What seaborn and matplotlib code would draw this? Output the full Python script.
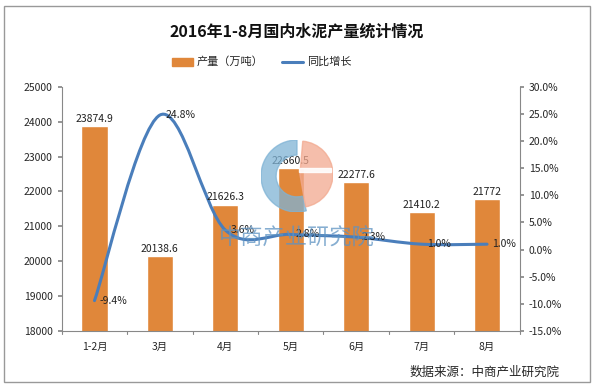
import numpy as np
import pandas as pd
import matplotlib
matplotlib.use('Agg')
import matplotlib.pyplot as plt
from matplotlib.path import Path
from matplotlib.patches import PathPatch, Rectangle, Wedge
import seaborn as sns

# Données
mois = ['1-2月', '3月', '4月', '5月', '6月', '7月', '8月']
production = [23874.9, 20138.6, 21626.3, 22660.5, 22277.6, 21410.2, 21772]
croissance = [-9.4, 24.8, 3.6, 2.8, 2.3, 1.0, 1.0]
prod_labels = ['23874.9', '20138.6', '21626.3', '22660.5', '22277.6', '21410.2', '21772']

sns.set_theme(style='white')
plt.rcParams['font.family'] = ['Noto Sans CJK SC', 'DejaVu Sans']

bar_color = '#E0873A'
line_color = '#4A7EBB'

W, H = 594, 386
fig = plt.figure(figsize=(5.94, 3.86), dpi=100)
ax = fig.add_axes([0.104, 0.1425, 0.771, 0.6325])

df = pd.DataFrame({'mois': mois, 'production': production})
sns.barplot(data=df, x='mois', y='production', color=bar_color, width=0.4,
            saturation=1, ax=ax)
ax.set_ylim(18000, 25000)
ax.set_yticks(range(18000, 25001, 1000))
ax.set_xlabel('')
ax.set_ylabel('')
ax.tick_params(axis='both', labelsize=7.5, length=3, color='#888888', direction='out')
ax.tick_params(axis='x', length=0, pad=8)
for s in ['top', 'right']:
    ax.spines[s].set_visible(False)
for s in ['left', 'bottom']:
    ax.spines[s].set_color('#888888')
    ax.spines[s].set_linewidth(0.8)
ax.set_xlim(-0.5, len(mois) - 0.5)
# séparateurs de catégories
for i in range(len(mois) + 1):
    ax.plot([i - 0.5, i - 0.5], [18000, 17900], color='#888888', lw=0.8, clip_on=False)

# Axe secondaire
ax2 = ax.twinx()
ax2.set_ylim(-15, 30)
ax2.set_yticks(np.arange(-15, 30.1, 5))
ax2.set_yticklabels([f'{t:.1f}%' for t in np.arange(-15, 30.1, 5)])
ax2.tick_params(axis='y', labelsize=7.5, length=3, color='#888888', direction='out')
for s in ['top', 'left', 'bottom']:
    ax2.spines[s].set_visible(False)
ax2.spines['right'].set_color('#888888')
ax2.spines['right'].set_linewidth(0.8)
ax2.grid(False)
ax.grid(False)

# Filigrane (logo + texte)
cx, cy, r = 297 / W, 1 - 176 / H, 36
rw, rh = r / W, r / H
logo_ax = fig.add_axes([cx - rw, cy - rh, 2 * rw, 2 * rh])
logo_ax.set_xlim(-1, 1)
logo_ax.set_ylim(-1, 1)
logo_ax.axis('off')
logo_ax.patch.set_alpha(0)
logo_ax.add_patch(Wedge((0, 0), 1, 90, 285, width=0.42, color='#7FB3D5', alpha=0.75))
logo_ax.add_patch(Wedge((0.08, 0.05), 0.92, -80, 85, color='#F2A98F', alpha=0.75))
logo_ax.add_patch(Rectangle((0.05, 0.1), 0.9, 0.12, color='white', alpha=0.9))
fig.text(297 / W, 1 - 238 / H, '中商产业研究院', ha='center', va='center', fontsize=16,
         color='#5E93C2', alpha=0.75, zorder=5)

# courbe lissée (style Excel) via Bézier
x = np.arange(len(mois), dtype=float)
y = np.array(croissance, dtype=float)
verts = [(x[0], y[0])]
codes = [Path.MOVETO]
n = len(x)
for i in range(n - 1):
    p0 = (x[i - 1], y[i - 1]) if i > 0 else (x[i], y[i])
    p1 = (x[i], y[i])
    p2 = (x[i + 1], y[i + 1])
    p3 = (x[i + 2], y[i + 2]) if i + 2 < n else (x[i + 1], y[i + 1])
    c1 = (p1[0] + (p2[0] - p0[0]) / 6, p1[1] + (p2[1] - p0[1]) / 6)
    c2 = (p2[0] - (p3[0] - p1[0]) / 6, p2[1] - (p3[1] - p1[1]) / 6)
    verts += [c1, c2, p2]
    codes += [Path.CURVE4] * 3
ax2.add_patch(PathPatch(Path(verts, codes), facecolor='none', edgecolor=line_color,
                        lw=2.2, capstyle='round'))

for i, v in enumerate(croissance):
    ax2.text(i + 0.08, v, f'{v:.1f}%', ha='left', va='center', fontsize=7.5,
             color='#222222', zorder=10)

# étiquettes des barres (au-dessus du filigrane)
for i, (v, t) in enumerate(zip(production, prod_labels)):
    ax2.text(i, -15 + (v + 60 - 18000) / 7000 * 45, t, ha='center', va='bottom',
             fontsize=7.5, color='#222222', zorder=10)

# Titre et légende
fig.text(0.5, 0.918, '2016年1-8月国内水泥产量统计情况', ha='center', va='center',
         fontsize=11.5, fontweight='bold', color='#111111')
fig.patches.append(Rectangle((172 / W, 0.829), 21 / W, 0.022, transform=fig.transFigure,
                             color=bar_color))
fig.text(197 / W, 0.840, '产量（万吨）', ha='left', va='center', fontsize=8)
fig.lines.append(plt.Line2D([282 / W, 303 / W], [0.840, 0.840], transform=fig.transFigure,
                            color=line_color, lw=2.2))
fig.text(307 / W, 0.840, '同比增长', ha='left', va='center', fontsize=8)

fig.text(560 / W, 1 - 372 / H, '数据来源：中商产业研究院', ha='right', va='center', fontsize=9)

# cadre
fig.patches.append(Rectangle((0.006, 0.01), 0.988, 0.975, transform=fig.transFigure,
                             fill=False, edgecolor='#999999', lw=1))

fig.savefig('out.png', dpi=100)
